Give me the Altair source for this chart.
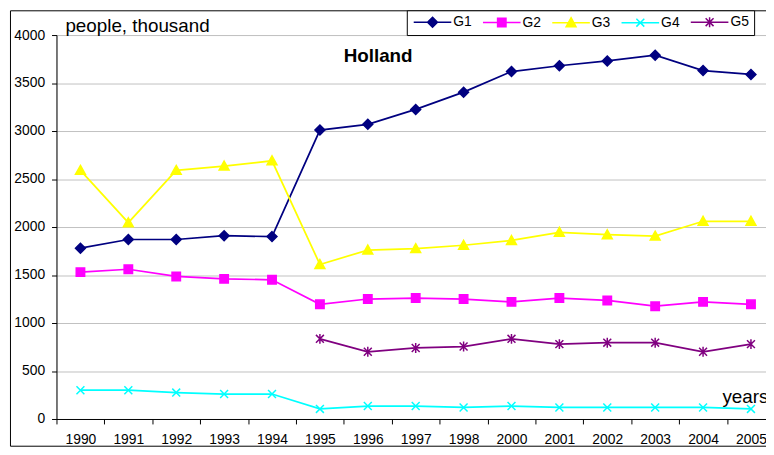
import altair as alt
import pandas as pd

years = ["1990", "1991", "1992", "1993", "1994", "1995", "1996", "1997",
         "1998", "2000", "2001", "2002", "2003", "2004", "2005"]
g1 = [1780, 1870, 1870, 1910, 1900, 3010, 3070, 3225, 3405, 3620, 3680, 3730, 3790, 3630, 3590]
g2 = [1530, 1560, 1485, 1460, 1450, 1195, 1250, 1260, 1250, 1220, 1260, 1235, 1175, 1220, 1195]
g3 = [2590, 2045, 2590, 2635, 2690, 1610, 1760, 1775, 1810, 1860, 1945, 1920, 1905, 2060, 2060]
g4 = [300, 300, 275, 260, 260, 105, 135, 135, 120, 135, 120, 120, 120, 120, 105]
g5 = [None, None, None, None, None, 835, 700, 740, 755, 835, 780, 795, 795, 700, 780]

series_names = ["G1", "G2", "G3", "G4", "G5"]
series_colors = ["#000080", "#FF00FF", "#FFFF00", "#00FFFF", "#800080"]
y_ticks = [0, 500, 1000, 1500, 2000, 2500, 3000, 3500, 4000]

marker_paths = [
    "M0,-1L1,0L0,1L-1,0Z",
    "M-0.85,-0.85H0.85V0.85H-0.85Z",
    "M0,-1L1,0.8H-1Z",
    "M-0.8,-0.8L0.8,0.8M-0.8,0.8L0.8,-0.8",
    "M-0.8,-0.8L0.8,0.8M-0.8,0.8L0.8,-0.8M0,-1L0,1",
]
legend_paths = ["M-3.8,0H3.8" + p for p in marker_paths]

rows = []
for name, vals in zip(series_names, [g1, g2, g3, g4, g5]):
    for yr, v in zip(years, vals):
        if v is not None:
            rows.append({"year": yr, "series": name, "value": v})
df = pd.DataFrame(rows)

FONT = "Liberation Sans"

x_enc = alt.X(
    "year:O", sort=years,
    scale=alt.Scale(type="band", domain=years, range=[0, 726], paddingInner=0, paddingOuter=0),
    axis=alt.Axis(title=None, tickBand="extent", labelAngle=0, domainColor="black",
                  tickColor="black", tickSize=5, labelFontSize=14, labelFont=FONT,
                  labelColor="black", labelPadding=9, grid=False, labelOverlap=False),
)
y_enc = alt.Y(
    "value:Q",
    scale=alt.Scale(domain=[0, 4000], nice=False),
    axis=alt.Axis(title=None, values=y_ticks, format="d", grid=True, gridColor="#c0c0c0",
                  domainColor="black", tickColor="black", tickSize=5, labelFontSize=14,
                  labelFont=FONT, labelColor="black", labelPadding=7),
)

def sc(rng):
    return alt.Scale(domain=series_names, range=rng)

base = alt.Chart(df)

frame = alt.Chart(pd.DataFrame({"a": [0]})).mark_rect(
    fill="transparent", stroke="black", strokeWidth=1
).encode(x=alt.value(-46.5), x2=alt.value(800), y=alt.value(-24.5), y2=alt.value(415.5))

lines = base.mark_line(strokeWidth=1.75).encode(
    x=x_enc, y=y_enc,
    color=alt.Color("series:N", scale=sc(series_colors), legend=None),
    detail="series:N",
)

points = base.mark_point(filled=True, size=100, strokeWidth=1.5, opacity=1).encode(
    x=x_enc, y=y_enc,
    fill=alt.Fill("series:N", scale=sc(series_colors), legend=None),
    stroke=alt.Stroke("series:N", scale=sc(series_colors), legend=None),
    shape=alt.Shape("series:N", scale=sc(marker_paths), legend=None),
)

leg = alt.Legend(title=None, orient="none", legendX=354, legendY=-25, direction="horizontal",
                 symbolSize=100, symbolStrokeWidth=1.5, symbolOffset=14, labelOffset=14,
                 columnPadding=8, padding=5, labelFontSize=14, labelFont=FONT,
                 labelColor="black", strokeColor="black", fillColor="white")

legend_layer = base.transform_filter("false").mark_point(
    filled=True, size=100, strokeWidth=1.5, opacity=1
).encode(
    x=x_enc, y=y_enc,
    fill=alt.Fill("series:N", scale=sc(series_colors), legend=leg),
    stroke=alt.Stroke("series:N", scale=sc(series_colors), legend=leg),
    shape=alt.Shape("series:N", scale=sc(legend_paths), legend=leg),
)

txt_df = pd.DataFrame({"a": [0]})
ylab = alt.Chart(txt_df).mark_text(
    text="people, thousand", align="left", baseline="alphabetic", fontSize=19, font=FONT, color="black"
).encode(x=alt.value(9), y=alt.value(-3))
ttl = alt.Chart(txt_df).mark_text(
    text="Holland", align="center", baseline="alphabetic", fontSize=19, fontWeight="bold", font=FONT, color="black"
).encode(x=alt.value(325), y=alt.value(27))
xlab = alt.Chart(txt_df).mark_text(
    text="years", align="left", baseline="alphabetic", fontSize=19, font=FONT, color="black"
).encode(x=alt.value(673), y=alt.value(372))

chart = alt.layer(frame, lines, points, legend_layer, ylab, ttl, xlab).resolve_scale(
    fill="independent", stroke="independent", shape="independent"
).properties(
    width=717, height=388,
    padding={"left": 49, "top": 25, "right": 0, "bottom": 29},
    autosize=alt.AutoSizeParams(type="none"),
).configure_view(stroke=None).configure(background="white")

chart.save("out.html", embed_options={"renderer": "svg", "actions": False})
